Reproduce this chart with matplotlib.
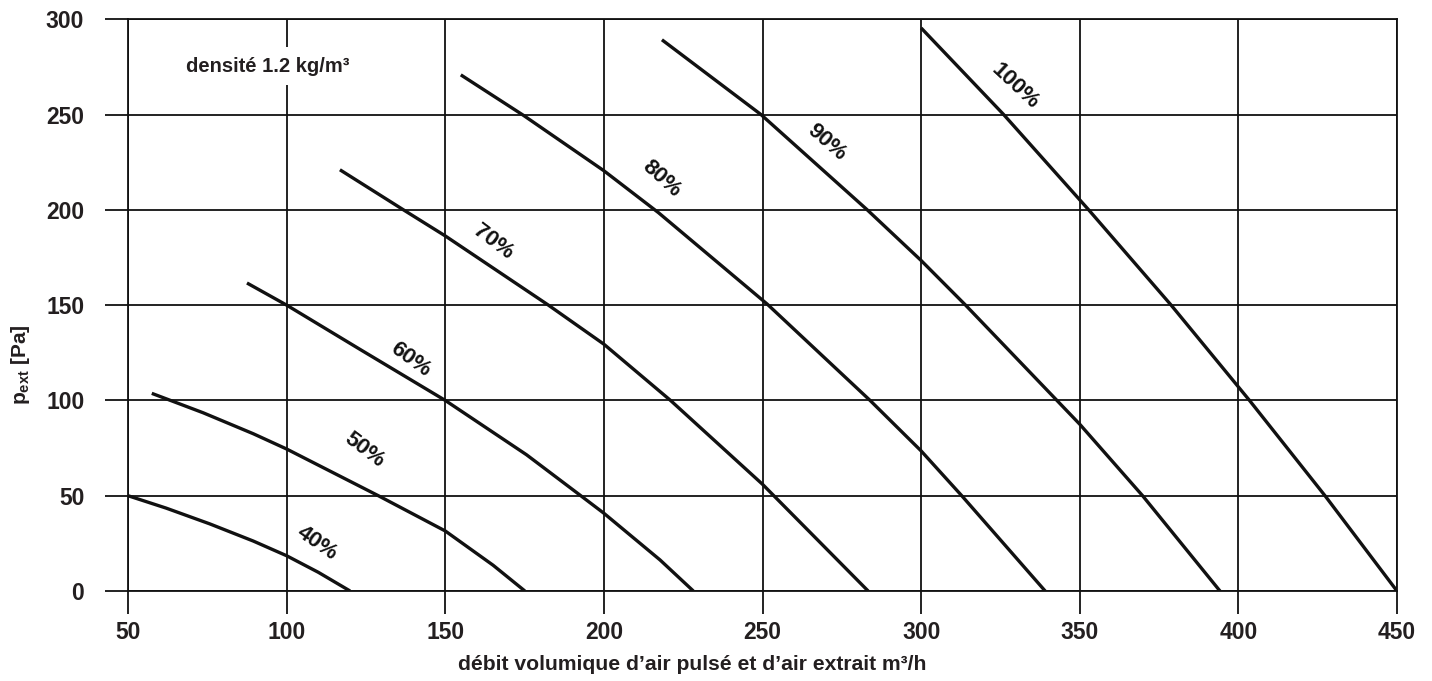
import matplotlib
matplotlib.use("Agg")
import matplotlib.pyplot as plt

# ---- font setup ----
plt.rcParams["font.family"] = ["Liberation Sans", "DejaVu Sans"]
plt.rcParams["font.weight"] = "bold"
plt.rcParams["mathtext.fontset"] = "custom"
plt.rcParams["mathtext.rm"] = "Liberation Sans:bold"
plt.rcParams["mathtext.bf"] = "Liberation Sans:bold"

TXT = "#231f20"
LINE = "#111111"

# ---- data: fan curves at fan speed % (airflow m3/h, pressure Pa) ----
speeds = ["40%", "50%", "60%", "70%", "80%", "90%", "100%"]

q40 = [50, 62, 75.8, 89.5, 100, 110, 120]
p40 = [50, 43.5, 35.2, 26.2, 18.5, 9.8, 0]

q50 = [57.5, 73.7, 89.5, 100, 128.9, 150, 165.1, 175.1]
p50 = [103.7, 93.5, 82.5, 74.5, 50, 31.5, 13.5, 0]

q60 = [87.5, 100, 123.1, 150, 175.6, 192.4, 200, 217.7, 228.2]
p60 = [161.6, 150, 126.8, 100, 71.5, 50.4, 40.8, 16.3, 0]

q70 = [116.8, 136.8, 150, 182.5, 200, 221, 250, 283.3]
p70 = [221.0, 200, 186.3, 150, 129.5, 100, 56, 0]

q80 = [154.9, 174.7, 200, 217.2, 251.5, 283.9, 300, 312.8, 339.1]
p80 = [270.8, 249.5, 220.5, 198.5, 150.5, 100, 73.5, 50, 0]

q90 = [218.3, 249.5, 283, 300, 314, 342.8, 350, 369.8, 394.2]
p90 = [289.2, 250, 200, 173.4, 150, 100, 87.5, 50, 0]

q100 = [300, 326, 352.8, 378.8, 403.5, 427.3, 450]
p100 = [295.4, 250, 200, 150, 100, 50, 0]

curves = [(q40, p40), (q50, p50), (q60, p60), (q70, p70),
          (q80, p80), (q90, p90), (q100, p100)]

x_ticks = [50, 100, 150, 200, 250, 300, 350, 400, 450]
y_ticks = [0, 50, 100, 150, 200, 250, 300]

# label placement (x, y, angle) for each curve
label_pos = [(109.5, 25.1, -35), (124.4, 74, -37), (139.1, 121.6, -36),
             (165.1, 183.3, -37), (218, 216.2, -42), (270.3, 235.4, -41),
             (329.5, 265, -43)]

# ---- figure ----
fig = plt.figure(figsize=(14.32, 6.81), dpi=100)
ax = fig.add_axes([128 / 1432, 1 - 591 / 681, (1397 - 128) / 1432, (591 - 19.2) / 681])

for q, p in curves:
    ax.plot(q, p, color=LINE, linewidth=2.4, solid_capstyle="butt",
            solid_joinstyle="round", zorder=3)

for name, (lx, ly, ang) in zip(speeds, label_pos):
    ax.text(lx, ly, name, rotation=ang, rotation_mode="anchor",
            ha="center", va="center", fontsize=16, fontweight="bold",
            color=LINE, zorder=4)

ax.set_xlim(50, 450)
ax.set_ylim(0, 300)
ax.set_xticks(x_ticks)
ax.set_yticks(y_ticks)
ax.grid(True, color=LINE, linewidth=1.3, zorder=1)
ax.set_axisbelow(True)
for s in ax.spines.values():
    s.set_linewidth(1.3)
    s.set_color(LINE)

ax.tick_params(axis="both", direction="out", length=16.5, width=1.3,
               color=LINE, labelcolor=TXT, labelsize=16.5)
ax.tick_params(axis="y", pad=15)
ax.tick_params(axis="x", pad=5)
for lab in ax.get_xticklabels() + ax.get_yticklabels():
    lab.set_fontweight("bold")

ax.text(94.1, 275.4, "densité 1.2 kg/m³", ha="center", va="center",
        fontsize=14.5, fontweight="bold", color=TXT, zorder=5,
        bbox=dict(facecolor="white", edgecolor="none", pad=7))

fig.text(692 / 1432, 1 - 665 / 681,
         "débit volumique d’air pulsé et d’air extrait m³/h",
         ha="center", va="center", fontsize=15.2, fontweight="bold", color=TXT)
fig.text(21 / 1432, 1 - 365 / 681, r"p$_{\mathrm{ext}}$ [Pa]",
         rotation=90, ha="center", va="center", fontsize=15,
         fontweight="bold", color=TXT)

fig.savefig("out.png", dpi=100, facecolor="white")
